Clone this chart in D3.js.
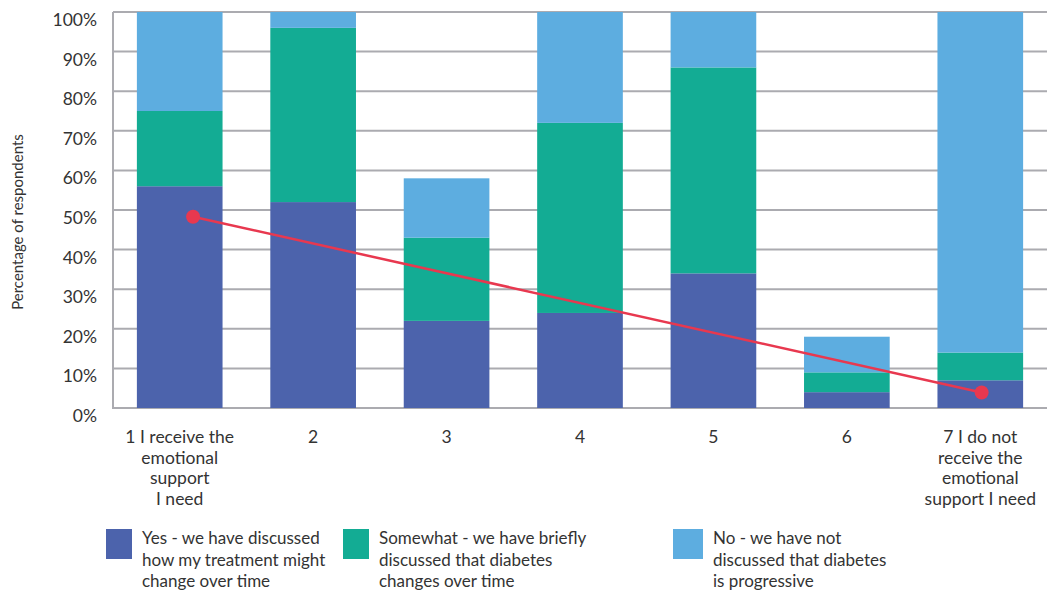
<!DOCTYPE html>
<html>
<head>
<meta charset="utf-8">
<script src="https://cdn.jsdelivr.net/npm/d3@7"></script>
<style>
  html, body { margin: 0; padding: 0; background: #fff; }
  svg { display: block; }
  text { font-family: Lato, "Open Sans", sans-serif; fill: #333; }
</style>
</head>
<body>
<svg id="chart" width="1051" height="590"></svg>
<script>
// Response categories on the emotional-support scale (1 = receive, 7 = do not receive)
const categories = ["1", "2", "3", "4", "5", "6", "7"];
const categoryLabels = [
  ["1 I receive the", "emotional", "support", "I need"],
  ["2"], ["3"], ["4"], ["5"], ["6"],
  ["7 I do not", "receive the", "emotional", "support I need"]
];

// Stacked shares (% of respondents) per category
const yesValues      = [56, 52, 22, 24, 34, 4, 7];
const somewhatValues = [19, 44, 21, 48, 52, 5, 7];
const noValues       = [25, 4, 15, 28, 14, 9, 86];

const seriesNames = [
  ["Yes - we have discussed", "how my treatment might", "change over time"],
  ["Somewhat - we have briefly", "discussed that diabetes", "changes over time"],
  ["No - we have not", "discussed that diabetes", "is progressive"]
];
const seriesColors = ["#4C63AC", "#13AC94", "#5DADE0"];

// Trend line endpoints (category position, %)
const trendX = [1.1, 7.01];
const trendY = [48.3, 3.9];

const yTicks = [0, 10, 20, 30, 40, 50, 60, 70, 80, 90, 100];

const svg = d3.select("#chart");
const margin = { left: 113, right: 1047, top: 12, bottom: 408 };

const x = d3.scaleBand()
  .domain(categories)
  .range([margin.left, margin.right])
  .paddingInner(0.358)
  .paddingOuter(0.179);

const y = d3.scaleLinear().domain([0, 100]).range([margin.bottom, margin.top]);

// category position (1..7) -> band centre
const xPos = d3.scaleLinear()
  .domain([1, 7])
  .range([x("1") + x.bandwidth() / 2, x("7") + x.bandwidth() / 2]);

// Gridlines
svg.append("g")
  .selectAll("line")
  .data(yTicks)
  .join("line")
  .attr("x1", margin.left)
  .attr("x2", margin.right)
  .attr("y1", d => y(d))
  .attr("y2", d => y(d))
  .attr("stroke", "#ABABB0")
  .attr("stroke-width", 2);

// Left axis line
svg.append("line")
  .attr("x1", margin.left).attr("x2", margin.left)
  .attr("y1", y(100)).attr("y2", y(0) + 1)
  .attr("stroke", "#ABABB0").attr("stroke-width", 2);

// Y tick labels
svg.append("g")
  .selectAll("text")
  .data(yTicks)
  .join("text")
  .attr("x", 97)
  .attr("y", d => y(d) + 14)
  .attr("text-anchor", "end")
  .attr("font-size", 17.5)
  .text(d => d + "%");

// Y axis title
svg.append("text")
  .attr("transform", "translate(23,222) rotate(-90)")
  .attr("text-anchor", "middle")
  .attr("font-size", 15)
  .text("Percentage of respondents");

// Stacked bars
const rows = categories.map((c, i) => ({
  cat: c, yes: yesValues[i], somewhat: somewhatValues[i], no: noValues[i]
}));
const stack = d3.stack().keys(["yes", "somewhat", "no"]);
const layers = stack(rows);

svg.append("g")
  .selectAll("g")
  .data(layers)
  .join("g")
  .attr("fill", (d, i) => seriesColors[i])
  .selectAll("rect")
  .data(d => d)
  .join("rect")
  .attr("x", d => x(d.data.cat))
  .attr("width", x.bandwidth())
  .attr("y", d => y(d[1]))
  .attr("height", d => y(d[0]) - y(d[1]));

// Trend line with end markers
const trend = trendX.map((v, i) => [v, trendY[i]]);
svg.append("path")
  .datum(trend)
  .attr("d", d3.line().x(d => xPos(d[0])).y(d => y(d[1])))
  .attr("fill", "none")
  .attr("stroke", "#E8384F")
  .attr("stroke-width", 2.5);
svg.append("g")
  .selectAll("circle")
  .data(trend)
  .join("circle")
  .attr("cx", d => xPos(d[0]))
  .attr("cy", d => y(d[1]))
  .attr("r", 7)
  .attr("fill", "#E8384F");

// Category labels
const catG = svg.append("g")
  .selectAll("text")
  .data(categories)
  .join("text")
  .attr("x", d => x(d) + x.bandwidth() / 2)
  .attr("y", 443)
  .attr("text-anchor", "middle")
  .attr("font-size", 17.5);
catG.selectAll("tspan")
  .data((d, i) => categoryLabels[i])
  .join("tspan")
  .attr("x", function () { return d3.select(this.parentNode).attr("x"); })
  .attr("dy", (d, i) => i === 0 ? 0 : 20.7)
  .text(d => d);

// Legend
const legendX = [106, 343, 673];
const legendW = [26, 26, 30];
const legend = svg.append("g")
  .selectAll("g")
  .data(seriesNames)
  .join("g")
  .attr("transform", (d, i) => `translate(${legendX[i]},529)`);
legend.append("rect")
  .attr("width", (d, i) => legendW[i])
  .attr("height", 30)
  .attr("fill", (d, i) => seriesColors[i]);
legend.append("text")
  .attr("x", (d, i) => legendW[i] + 10)
  .attr("y", 15)
  .attr("font-size", 17)
  .selectAll("tspan")
  .data(d => d)
  .join("tspan")
  .attr("x", function () { return d3.select(this.parentNode).attr("x"); })
  .attr("dy", (d, i) => i === 0 ? 0 : 21.7)
  .text(d => d);
</script>
</body>
</html>
